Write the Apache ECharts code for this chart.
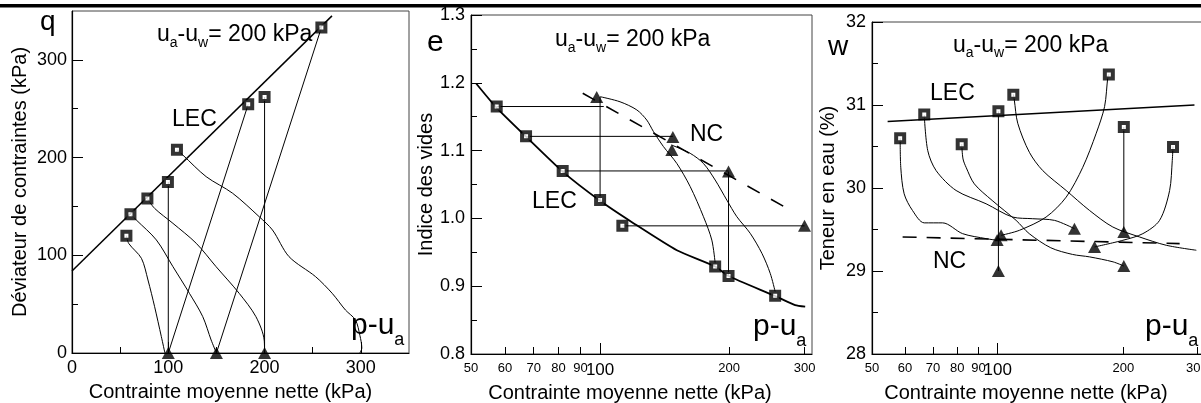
<!DOCTYPE html>
<html>
<head>
<meta charset="utf-8">
<script src="https://cdn.jsdelivr.net/npm/echarts@6.0.0/dist/echarts.min.js"></script>
<style>
html, body { margin: 0; padding: 0; background: #fff; }
#main { width: 1201px; height: 403px; }
</style>
</head>
<body>
<div id="main"></div>
<script>
var F = '"Liberation Sans", Arial, Helvetica, sans-serif';

// ---- panneau 1 : q - p ----
var qXTicks = [0, 100, 200, 300];
var qXMinor = [50, 150, 250];
var qYTicks = [0, 100, 200, 300];
var qYMinor = [50, 150, 250];
var qLec = [[0, 84], [270, 345]];
var qSquares = [[56.5, 120], [60.7, 142], [78.3, 158], [99.6, 175], [109, 208], [183, 254.5], [200, 262], [259, 333]];
var qTriangles = [[100, 0], [150, 0], [200, 0]];
var qLinks = [
    [[100, 0], [100, 175]],
    [[200, 0], [200, 262]],
    [[100, 0], [183, 254.5]],
    [[150, 0], [259, 333]]
];
var qCurves = [
    [[56.5, 120], [59, 112], [72.1, 96.9], [78.9, 74.7], [85.8, 47.4], [92.8, 16.7], [96.5, 0]],
    [[60.7, 142], [66.9, 136], [87.6, 115.7], [104.8, 88.4], [122, 61], [135.8, 37.2], [144.5, 13.3], [150, 0]],
    [[78.3, 158], [85.8, 148], [104.8, 132.7], [129, 112.3], [149.6, 88.4], [173.7, 61], [191, 37.2], [199.6, 13.3], [200, 0]],
    [[109, 208], [115, 202.7], [139.3, 180.5], [166.8, 163.5], [194.4, 139.5], [208.2, 125.9], [225.4, 98.6], [253, 78.1], [270.2, 61.1], [284, 44], [294.4, 33.8], [299, 18], [301, 5], [299, 0]]
];

// ---- axes log (panneaux 2 et 3) ----
var pMin = 50, pMax = 312;
var logMinor = [50, 60, 70, 80, 90, 200, 300];
var logMajor = [100];

// ---- panneau 2 : e - log p ----
var eLec = [[51.4, 1.199], [57.4, 1.163], [67.2, 1.1205], [81.8, 1.069], [100, 1.026], [119.6, 0.993], [151, 0.953], [185.5, 0.929], [199.3, 0.915], [256, 0.8855], [285, 0.872], [300.8, 0.8698]];
var eNc = [[91.1, 1.1845], [280, 1.011]];
var eSquares = [[57.4, 1.165], [67.2, 1.121], [81.8, 1.07], [100, 1.027], [112.7, 0.989], [185.5, 0.929], [199.3, 0.915], [256, 0.886]];
var eTriangles = [[98.2, 1.179], [147.8, 1.12], [147, 1.101], [199.3, 1.069], [299.7, 0.989]];
var eLinks = [
    [[57.4, 1.165], [102, 1.165]],
    [[67.2, 1.121], [147.8, 1.121]],
    [[81.8, 1.07], [199.3, 1.07]],
    [[112.7, 0.989], [299.7, 0.989]],
    [[100, 1.179], [100, 1.027]],
    [[199.3, 1.069], [199.3, 0.915]]
];
var eCurves = [
    [[100, 1.1795], [111.3, 1.172], [121.8, 1.16], [128.5, 1.145], [133.2, 1.128], [140.5, 1.106], [151, 1.081], [162.2, 1.047], [174.2, 1.0025], [182.2, 0.968], [185.5, 0.934]],
    [[147, 1.108], [162.2, 1.096], [174.2, 1.081], [185.5, 1.0566], [197.5, 1.027], [208.4, 1.0025], [223.9, 0.978], [238.4, 0.9485], [249.3, 0.919], [256, 0.892]]
];

// ---- panneau 3 : w - log p ----
var wLec = [[54.5, 30.8], [296, 31.0]];
var wNc = [[59.2, 29.41], [272.8, 29.33]];
var wSquares = [[58.4, 30.60], [66.7, 30.885], [82, 30.527], [100.4, 30.924], [109, 31.125], [184.6, 31.366], [200.5, 30.735], [263, 30.495]];
var wTriangles = [[101.9, 29.432], [99.7, 29.372], [100.4, 29.0], [152.7, 29.51], [170.6, 29.29], [200.5, 29.47], [200.5, 29.06]];
var wLinks = [
    [[100.4, 30.924], [100.4, 29.0]],
    [[200.5, 30.735], [200.5, 29.47]]
];
var wCurves = [
    [[58.4, 30.60], [58.6, 30.25], [59.7, 29.93], [62.5, 29.73], [66.7, 29.58], [73.8, 29.58], [82.4, 29.45], [93.8, 29.39], [99.7, 29.37]],
    [[66.7, 30.88], [68.0, 30.45], [71.2, 30.21], [79.5, 29.97], [93.8, 29.81], [108.6, 29.65], [121.3, 29.63], [136.8, 29.61], [152.7, 29.51]],
    [[82, 30.53], [82.6, 30.35], [84, 30.25], [87.9, 30.05], [97, 29.85], [110.7, 29.61], [119, 29.45], [134, 29.28], [151, 29.2], [166, 29.17], [189, 29.11], [200.5, 29.06]],
    [[109, 31.13], [109.6, 31.06], [111.7, 30.78], [119.1, 30.43], [128.2, 30.21], [145.9, 29.97], [165.9, 29.73], [188.7, 29.53], [218.7, 29.41], [253.4, 29.31], [299.1, 29.25]],
    [[101.9, 29.43], [112.7, 29.49], [130.6, 29.65], [145.9, 29.89], [159.9, 30.25], [172.2, 30.66], [180.3, 30.98], [183.6, 31.34], [184.6, 31.37]],
    [[170.6, 29.29], [199.5, 29.37], [222.7, 29.45], [244.2, 29.61], [258.1, 29.97], [261.9, 30.33], [263, 30.5]]
];

function lg(pts) {
    return pts.map(function (d) { return [Math.log10(d[0]), d[1]]; });
}
function logVals(arr) {
    return arr.map(function (v) { return Math.log10(v); });
}
function fmtLog(v) {
    return String(Math.round(Math.pow(10, v)));
}

function lineS(data, xi, yi, w, dash, smooth) {
    return {
        type: 'line', xAxisIndex: xi, yAxisIndex: yi, data: data,
        symbol: 'none', showSymbol: false, smooth: smooth || false, silent: true, z: 2,
        lineStyle: { color: '#000', width: w, type: dash || 'solid' }
    };
}
function squareS(data, xi, yi) {
    return {
        type: 'scatter', xAxisIndex: xi, yAxisIndex: yi, data: data, clip: false, silent: true, z: 5,
        symbol: 'rect', symbolSize: 8,
        itemStyle: { color: '#fff', borderColor: '#000', borderWidth: 4 }
    };
}
function triS(data, xi, yi) {
    return {
        type: 'scatter', xAxisIndex: xi, yAxisIndex: yi, data: data, clip: false, silent: true, z: 5,
        symbol: 'triangle', symbolSize: [13, 12],
        itemStyle: { color: '#000' }
    };
}

var axisLineSt = { lineStyle: { color: '#000', width: 1.2 } };
var tickSt = { color: '#000', width: 1 };
var labelSt = { color: '#000', fontFamily: F };
var nameSt = { color: '#000', fontFamily: F, fontSize: 20 };

function xTitle(pad) {
    return {
        name: 'Contrainte moyenne nette (kPa)', nameLocation: 'middle', nameGap: 29,
        nameTextStyle: Object.assign({ padding: [0, pad, 0, 0] }, nameSt)
    };
}

function logX(grid, minor) {
    var vals = logVals(minor ? logMinor : logMajor);
    var ax = {
        gridIndex: grid, type: 'value', position: 'bottom',
        min: Math.log10(pMin), max: Math.log10(pMax),
        splitLine: { show: false },
        axisLine: minor ? axisLineSt : { show: false },
        axisTick: { inside: true, length: minor ? 7 : 11, customValues: vals, lineStyle: tickSt },
        axisLabel: Object.assign({ customValues: vals, fontSize: minor ? 13 : 17, margin: 8, formatter: fmtLog }, labelSt)
    };
    return ax;
}

var xAxes = [
    Object.assign({
        gridIndex: 0, type: 'value', min: 0, max: 350, position: 'bottom',
        splitLine: { show: false }, axisLine: axisLineSt,
        axisTick: { inside: true, length: 11, customValues: qXTicks, lineStyle: tickSt },
        axisLabel: Object.assign({ customValues: qXTicks, fontSize: 18, margin: 6 }, labelSt)
    }, xTitle(20)),
    {
        gridIndex: 0, type: 'value', min: 0, max: 350, position: 'bottom',
        splitLine: { show: false }, axisLine: { show: false },
        axisTick: { inside: true, length: 6, customValues: qXMinor, lineStyle: tickSt },
        axisLabel: { show: false }
    },
    Object.assign(logX(1, true), xTitle(23)),
    logX(1, false),
    Object.assign(logX(2, true), xTitle(24)),
    logX(2, false)
];

var yAxes = [
    {
        gridIndex: 0, type: 'value', min: 0, max: 350, position: 'left',
        splitLine: { show: false }, axisLine: axisLineSt,
        axisTick: { inside: true, length: 11, customValues: qYTicks, lineStyle: tickSt },
        axisLabel: Object.assign({ customValues: qYTicks, fontSize: 18, margin: 5 }, labelSt),
        name: 'Déviateur de contraintes (kPa)', nameLocation: 'middle', nameGap: 42, nameTextStyle: nameSt
    },
    {
        gridIndex: 0, type: 'value', min: 0, max: 350, position: 'left',
        splitLine: { show: false }, axisLine: { show: false },
        axisTick: { inside: true, length: 6, customValues: qYMinor, lineStyle: tickSt },
        axisLabel: { show: false }
    },
    {
        gridIndex: 1, type: 'value', min: 0.8, max: 1.3, interval: 0.1, position: 'left',
        splitLine: { show: false }, axisLine: axisLineSt,
        axisTick: { inside: true, length: 11, lineStyle: tickSt },
        minorTick: { show: true, splitNumber: 2, length: 6, lineStyle: tickSt },
        axisLabel: Object.assign({ fontSize: 18, margin: 6, formatter: function (v) { return v.toFixed(1); } }, labelSt),
        name: 'Indice des vides', nameLocation: 'middle', nameGap: 25, nameTextStyle: nameSt
    },
    {
        gridIndex: 2, type: 'value', min: 28, max: 32, interval: 1, position: 'left',
        splitLine: { show: false }, axisLine: axisLineSt,
        axisTick: { inside: true, length: 11, lineStyle: tickSt },
        minorTick: { show: true, splitNumber: 2, length: 6, lineStyle: tickSt },
        axisLabel: Object.assign({ fontSize: 18, margin: 6 }, labelSt),
        name: 'Teneur en eau (%)', nameLocation: 'middle', nameGap: 34, nameTextStyle: nameSt
    }
];

var series = [];
// panneau 1
series.push(lineS(qLec, 0, 0, 1.5));
qLinks.forEach(function (d) { series.push(lineS(d, 0, 0, 1)); });
qCurves.forEach(function (d) { series.push(lineS(d, 0, 0, 1, 'solid', 0.3)); });
series.push(squareS(qSquares, 0, 0));
series.push(triS(qTriangles, 0, 0));
// panneau 2
series.push(lineS(lg(eLec), 2, 2, 1.8, 'solid', 0.2));
series.push(lineS(lg(eNc), 2, 2, 1.6, [14, 13]));
eLinks.forEach(function (d) { series.push(lineS(lg(d), 2, 2, 1)); });
eCurves.forEach(function (d) { series.push(lineS(lg(d), 2, 2, 1, 'solid', 0.3)); });
series.push(squareS(lg(eSquares), 2, 2));
series.push(triS(lg(eTriangles), 2, 2));
// panneau 3
series.push(lineS(lg(wLec), 4, 3, 1.5));
series.push(lineS(lg(wNc), 4, 3, 1.6, [14, 10]));
wLinks.forEach(function (d) { series.push(lineS(lg(d), 4, 3, 1)); });
wCurves.forEach(function (d) { series.push(lineS(lg(d), 4, 3, 1, 'solid', 0.3)); });
series.push(squareS(lg(wSquares), 4, 3));
series.push(triS(lg(wTriangles), 4, 3));

// textes
function plainText(x, y, txt, size) {
    return {
        type: 'text', x: x, y: y, z: 100, silent: true,
        style: { text: txt, fontSize: size, fontFamily: F, fill: '#000', align: 'left', verticalAlign: 'middle', textAlign: 'left', textVerticalAlign: 'middle' }
    };
}
function suctionText(x, y) {
    return {
        type: 'text', x: x, y: y, z: 100, silent: true,
        style: {
            text: '{n|u}{s|a}{n|-u}{s|w}{n|= 200 kPa}', fill: '#000',
            align: 'left', verticalAlign: 'top', textAlign: 'left', textVerticalAlign: 'top',
            rich: {
                n: { fontSize: 23, fontFamily: F, lineHeight: 30, verticalAlign: 'middle', color: '#000' },
                s: { fontSize: 14, fontFamily: F, lineHeight: 30, verticalAlign: 'bottom', color: '#000' }
            }
        }
    };
}
function puText(x, y) {
    return {
        type: 'text', x: x, y: y, z: 100, silent: true,
        style: {
            text: '{n|p-u}{s|a}', fill: '#000',
            align: 'left', verticalAlign: 'top', textAlign: 'left', textVerticalAlign: 'top',
            rich: {
                n: { fontSize: 30, fontFamily: F, lineHeight: 46, verticalAlign: 'middle', color: '#000' },
                s: { fontSize: 18, fontFamily: F, lineHeight: 46, verticalAlign: 'bottom', color: '#000' }
            }
        }
    };
}

var graphics = [
    { type: 'rect', shape: { x: 0, y: 4, width: 1201, height: 3.5 }, style: { fill: '#000' }, z: 100, silent: true },
    plainText(40, 22, 'q', 28),
    suctionText(157, 20),
    plainText(172, 120, 'LEC', 23),
    puText(351, 303),
    plainText(427, 42.5, 'e', 30),
    suctionText(555, 25),
    plainText(690, 135, 'NC', 23),
    plainText(532, 202, 'LEC', 23),
    puText(753, 304),
    plainText(828, 47, 'w', 28),
    suctionText(953, 30.5),
    plainText(930, 94, 'LEC', 23),
    plainText(933, 262, 'NC', 23),
    puText(1145, 304)
];

var myChart = echarts.init(document.getElementById('main'));
var option = {
    animation: false,
    backgroundColor: '#fff',
    grid: [
        { left: 72, top: 11, width: 337, height: 342, show: true, borderColor: '#444', borderWidth: 1, outerBoundsMode: 'none', containLabel: false },
        { left: 471, top: 15, width: 341, height: 339, show: true, borderColor: '#444', borderWidth: 1, outerBoundsMode: 'none', containLabel: false },
        { left: 872, top: 22, width: 332, height: 332, show: true, borderColor: '#444', borderWidth: 1, outerBoundsMode: 'none', containLabel: false }
    ],
    xAxis: xAxes,
    yAxis: yAxes,
    series: series,
    graphic: graphics
};
myChart.setOption(option);
</script>
</body>
</html>
